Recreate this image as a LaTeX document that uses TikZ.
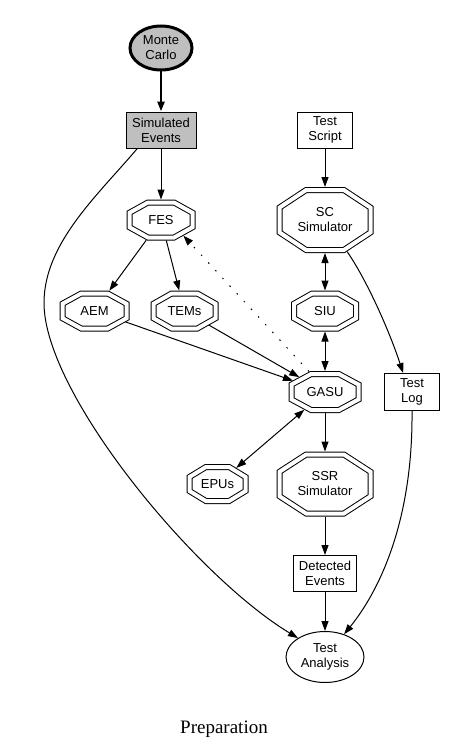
\documentclass[tikz,border=0pt]{standalone}
\usepackage{fontspec}
\setmainfont{Liberation Serif}
\newfontfamily\arialfont{Liberation Sans}
\usetikzlibrary{arrows.meta, shapes.geometric}

% stretched octagon, sized by minimum width/height only
\makeatletter
\pgfdeclareshape{octagon}{%
  \savedanchor\northeast{%
    \pgfmathsetlength\pgf@x{\pgfkeysvalueof{/pgf/minimum width}}%
    \pgfmathsetlength\pgf@y{\pgfkeysvalueof{/pgf/minimum height}}%
    \pgf@x=.5\pgf@x \pgf@y=.5\pgf@y}%
  \savedanchor\textorigin{%
    \pgf@x=-.5\wd\pgfnodeparttextbox
    \pgf@y=.5\dp\pgfnodeparttextbox \advance\pgf@y by -.5\ht\pgfnodeparttextbox}%
  \saveddimen\octsep{\pgfmathsetlength\pgf@x{\pgfkeysvalueof{/pgf/outer xsep}}}%
  \anchor{center}{\pgfpointorigin}%
  \anchor{text}{\textorigin}%
  \anchor{north}{\northeast \pgf@x=0pt}%
  \anchor{south}{\northeast \pgf@x=0pt \pgf@y=-\pgf@y}%
  \anchor{east}{\northeast \pgf@y=0pt}%
  \anchor{west}{\northeast \pgf@x=-\pgf@x \pgf@y=0pt}%
  \backgroundpath{%
    \northeast \pgf@xa=\pgf@x \pgf@ya=\pgf@y
    \pgf@xb=.414\pgf@xa \pgf@yb=.414\pgf@ya
    \pgfpathmoveto{\pgfqpoint{\pgf@xb}{\pgf@ya}}%
    \pgfpathlineto{\pgfqpoint{\pgf@xa}{\pgf@yb}}%
    \pgfpathlineto{\pgfqpoint{\pgf@xa}{-\pgf@yb}}%
    \pgfpathlineto{\pgfqpoint{\pgf@xb}{-\pgf@ya}}%
    \pgfpathlineto{\pgfqpoint{-\pgf@xb}{-\pgf@ya}}%
    \pgfpathlineto{\pgfqpoint{-\pgf@xa}{-\pgf@yb}}%
    \pgfpathlineto{\pgfqpoint{-\pgf@xa}{\pgf@yb}}%
    \pgfpathlineto{\pgfqpoint{-\pgf@xb}{\pgf@ya}}%
    \pgfpathclose}%
  \anchorborder{%
    \pgfmathsetmacro\octdx{\pgf@x}%
    \pgfmathsetmacro\octdy{\pgf@y}%
    \northeast
    \pgfmathsetmacro\octa{\pgf@x+\octsep}%
    \pgfmathsetmacro\octb{\pgf@y+\octsep}%
    \pgfmathsetmacro\octt{min(\octa/max(abs(\octdx),0.01), \octb/max(abs(\octdy),0.01),
      0.8284*\octa*\octb/max(0.586*\octb*abs(\octdx)+0.586*\octa*abs(\octdy),0.01))}%
    \pgfmathsetmacro\octx{\octt*\octdx}%
    \pgfmathsetmacro\octy{\octt*\octdy}%
    \pgf@x=\octx pt \pgf@y=\octy pt}%
}
\makeatother

\begin{document}
\begin{tikzpicture}[x=1pt, y=-1pt, line width=1pt,
		font=\arialfont\fontsize{13}{15}\selectfont,
		rbox/.style={draw, rectangle, align=center, inner sep=2pt, minimum height=36pt},
		octo/.style={draw, double, double distance=4pt, shape=octagon,
		             minimum height=35pt, align=center, outer sep=3pt},
		bigocto/.style={octo, minimum height=60pt, minimum width=91pt},
		oval/.style={draw, ellipse, align=center, inner sep=1pt},
		arr/.style={-{Triangle[length=10pt, width=7pt]}},
		biarr/.style={{Triangle[length=10pt, width=7pt]}-{Triangle[length=10pt, width=7pt]}},
		dotty/.style={dash pattern=on 1.5pt off 9pt}]
		\useasboundingbox (0,0) rectangle (448,752);
		% left column
		\node[oval, fill=lightgray, line width=3pt, minimum width=62pt, minimum height=44pt] (mc) at (161,48) {Monte\\Carlo};
		\node[rbox, fill=lightgray, minimum width=70pt] (simev) at (161,130) {Simulated\\Events};
		\node[octo, minimum width=63pt] (fes) at (161,220) {FES};
		\node[octo, minimum width=64pt] (aem) at (94.5,311) {AEM};
		\node[octo, minimum width=62pt] (tems) at (184.5,311) {TEMs};
		\node[octo, minimum width=56pt, minimum height=34pt] (epus) at (217.5,484) {EPUs};
		% right column
		\node[rbox, minimum width=55pt] (script) at (325,130) {Test\\Script};
		\node[bigocto] (sc) at (325,220) {SC\\Simulator};
		\node[octo, minimum width=62pt] (siu) at (325,311) {SIU};
		\node[octo, minimum width=67pt, minimum height=36pt] (gasu) at (325,392) {GASU};
		\node[rbox, minimum width=55pt, minimum height=37pt] (log) at (412,392) {Test\\Log};
		\node[bigocto, minimum height=59pt] (ssr) at (325,484) {SSR\\Simulator};
		\node[rbox, minimum width=63pt] (detected) at (325,573.5) {Detected\\Events};
		\node[oval, minimum width=78pt, minimum height=51pt] (ta) at (325,657) {Test\\Analysis};
		\node[font=\rmfamily\fontsize{19}{22}\selectfont] (title) at (224,729) {Preparation};
		% edges
		\draw[arr, line width=2.5pt] (mc) -- (simev);
		\draw[arr] (simev) -- (fes);
		\draw[arr] (simev.218) .. controls (98,195) and (44,243) .. (44,303)
		           .. controls (44,393) and (194,575) .. (ta.145);
		\draw[arr] (script) -- (sc);
		\draw[arr] (sc.-55) .. controls (368,282) and (390,333) .. (log.115);
		\draw[biarr] (sc) -- (siu);
		\draw[biarr] (siu) -- (gasu);
		\draw[arr] (fes) -- (aem);
		\draw[arr] (fes) -- (tems);
		\draw[arr] (aem) -- (gasu);
		\draw[arr] (tems) -- (gasu);
		\draw[arr, dotty] (gasu.128) -- (fes.-35);
		\draw[biarr] (gasu) -- (epus);
		\draw[arr] (gasu) -- (ssr);
		\draw[arr] (ssr) -- (detected);
		\draw[arr] (detected) -- (ta);
		\draw[arr] (log.south) .. controls (413,520) and (380,590) .. (ta.50);
	\end{tikzpicture}
\end{document}
